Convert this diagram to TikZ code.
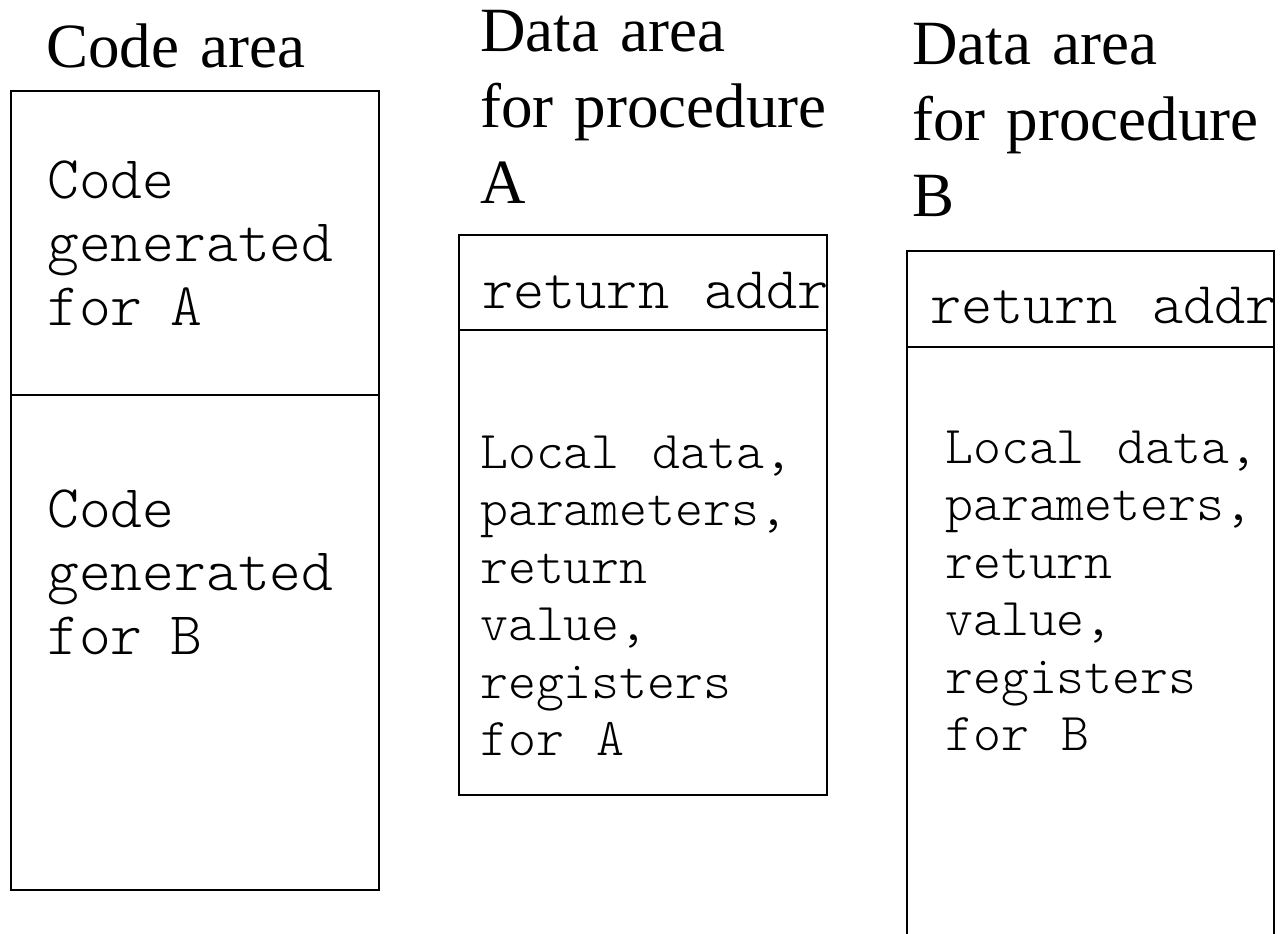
\documentclass[tikz,border=0pt]{standalone}
\usepackage{fontspec}
\setmainfont{Liberation Serif}
\setmonofont{lmmonolt10-regular}[Extension=.otf]
% monospaced text: size and baseline skip
\newcommand\monosize[2]{\ttfamily\fontsize{#1}{#2}\selectfont}
\begin{document}
\begin{tikzpicture}[x=1pt,y=-1pt,
  box/.style={draw=black,line width=2pt},
  title/.style={anchor=base west,inner sep=0pt,align=left,text width=400pt,
    font=\fontsize{63}{76}\selectfont},
  wordgap/.style={execute at begin node={\spaceskip=#1em\relax}},
  codetext/.style={anchor=base west,inner sep=0pt,align=left,text width=400pt,
    font=\monosize{60.6}{63.5},wordgap=0.46},
  datatext/.style={anchor=base west,inner sep=0pt,align=left,text width=400pt,
    font=\monosize{53.2}{57.5},wordgap=0.61},
  rettext/.style={anchor=base west,inner sep=0pt,
    font=\monosize{59.4}{60},wordgap=0.59}]
\useasboundingbox (0,0) rectangle (1280,934);
\clip (0,0) rectangle (1280,934);

% titles
\node[title] (tcode) at (46,67) {Code area};
\node[title] (tda) at (480,52) {Data area\\for procedure\\A};
\node[title] (tdb) at (912,65) {Data area\\for procedure\\B};

% code area
\node[codetext] (ca) at (47,198) {Code\\generated\\for A};
\node[codetext] (cb) at (47,527) {Code\\generated\\for B};
\draw[box] (11,91) rectangle (379,890);
\draw[box] (11,395) -- (379,395);

% data area for A
\node[rettext] (ra) at (482,308) {return addr};
\node[datatext] (la) at (480,468) {Local data,\\parameters,\\return\\value,\\registers\\for A};
\draw[box] (459,235) rectangle (827,795);
\draw[box] (459,330) -- (827,330);

% data area for B
\node[rettext] (rb) at (930,323) {return addr};
\node[datatext] (lb) at (945,463) {Local data,\\parameters,\\return\\value,\\registers\\for B};
\draw[box] (907,960) -- (907,251) -- (1274,251) -- (1274,960);
\draw[box] (907,347) -- (1274,347);
\end{tikzpicture}
\end{document}
